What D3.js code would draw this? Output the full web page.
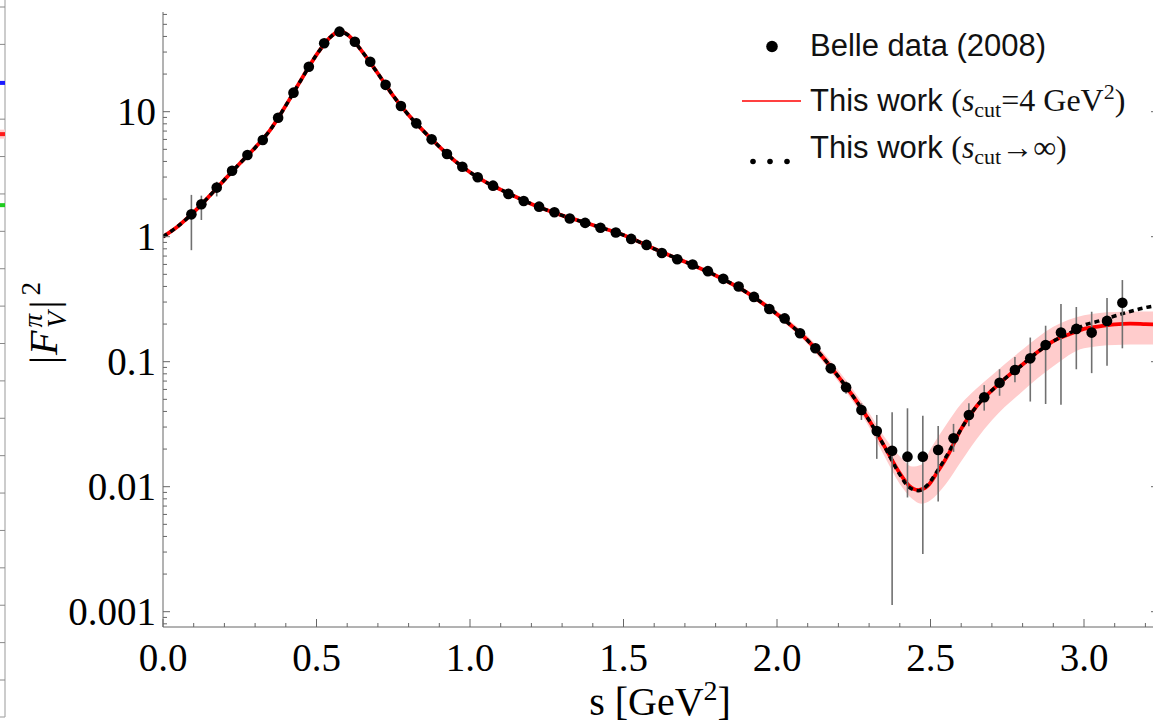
<!DOCTYPE html>
<html>
<head>
<meta charset="utf-8">
<script src="https://cdn.jsdelivr.net/npm/d3@7"></script>
<style>
  body { margin: 0; background: #fff; }
  svg { display: block; }
</style>
</head>
<body>
<div id="chart"></div>
<script>
// 1: DATA
// Belle (2008) points
const belleS = [0.0925, 0.125, 0.175, 0.225, 0.275, 0.325, 0.375, 0.425, 0.475, 0.525,
  0.575, 0.625, 0.675, 0.725, 0.775, 0.825, 0.875, 0.925, 0.975, 1.025,
  1.075, 1.125, 1.175, 1.225, 1.275, 1.325, 1.375, 1.425, 1.475, 1.525,
  1.575, 1.625, 1.675, 1.725, 1.775, 1.825, 1.875, 1.925, 1.975, 2.025,
  2.075, 2.125, 2.175, 2.225, 2.275, 2.325, 2.375, 2.425, 2.475, 2.525,
  2.575, 2.625, 2.675, 2.725, 2.775, 2.825, 2.875, 2.925, 2.975, 3.025,
  3.075, 3.125];
const belleV = [1.51, 1.82, 2.47, 3.37, 4.50, 5.94, 8.95, 14.2, 22.9, 35.3,
  43.7, 36.3, 25.1, 16.4, 11.1, 8.07, 6.01, 4.59, 3.63, 2.99,
  2.56, 2.20, 1.93, 1.74, 1.57, 1.40, 1.29, 1.18, 1.08, 0.96,
  0.86, 0.74, 0.66, 0.60, 0.53, 0.46, 0.40, 0.33, 0.264, 0.222,
  0.169, 0.128, 0.0885, 0.0624, 0.0411, 0.0279, 0.0194, 0.0174, 0.0174, 0.0197,
  0.0244, 0.0375, 0.0519, 0.0679, 0.0859, 0.1064, 0.136, 0.171, 0.183, 0.171,
  0.212, 0.296];
// error bars (null = hidden behind the marker)
const belleLo = [0.78, 1.36, 2.1, null, null, null, null, null, null, null,
  null, null, null, null, null, null, null, null, null, null,
  null, null, null, null, null, null, null, null, null, null,
  null, null, null, null, null, null, null, null, null, null,
  null, null, 0.081, 0.0555, 0.0342, 0.0167, 0.00113, 0.0082, 0.0029, 0.0076,
  0.019, 0.0304, 0.0406, 0.0534, 0.0684, 0.048, 0.0459, 0.0453, 0.087, 0.081,
  0.093, 0.128];
const belleHi = [2.16, 2.13, 2.75, null, null, null, null, null, null, null,
  null, null, null, null, null, null, null, null, null, null,
  null, null, null, null, null, null, null, null, null, null,
  null, null, null, null, null, null, null, null, null, null,
  null, null, 0.097, 0.0694, 0.0464, 0.0375, 0.0394, 0.0424, 0.037, 0.0306,
  0.0318, 0.0466, 0.065, 0.087, 0.109, 0.156, 0.194, 0.29, 0.274, 0.251,
  0.323, 0.45];

// model curves
const curveS = [0, 0.05, 0.1, 0.15, 0.2, 0.25, 0.3, 0.35, 0.4, 0.45,
  0.5, 0.55, 0.575, 0.6, 0.65, 0.7, 0.75, 0.8, 0.85, 0.9,
  0.95, 1.0, 1.05, 1.1, 1.2, 1.3, 1.4, 1.5, 1.6, 1.7,
  1.8, 1.9, 2.0, 2.1, 2.2, 2.25, 2.3, 2.35, 2.4, 2.43,
  2.46, 2.49, 2.52, 2.56, 2.6, 2.65, 2.7, 2.75, 2.8, 2.85,
  2.9, 2.95, 3.0, 3.05, 3.1, 3.15, 3.2, 3.25];
const redV = [1.0, 1.22, 1.57, 2.1, 2.85, 3.85, 5.15, 7.2, 11.2, 18.0,
  28.5, 40.5, 44.0, 41.5, 30.0, 20.2, 13.4, 9.4, 6.95, 5.25,
  4.05, 3.28, 2.75, 2.38, 1.83, 1.48, 1.24, 1.03, 0.80, 0.63,
  0.49, 0.36, 0.24, 0.148, 0.076, 0.052, 0.034, 0.021, 0.0128, 0.0102,
  0.0094, 0.0101, 0.0128, 0.0185, 0.029, 0.044, 0.059, 0.076, 0.095, 0.12,
  0.146, 0.165, 0.183, 0.192, 0.199, 0.202, 0.200, 0.198];
const blackV = [1.0, 1.22, 1.57, 2.1, 2.85, 3.85, 5.15, 7.2, 11.2, 18.0,
  28.5, 40.5, 44.0, 41.5, 30.0, 20.2, 13.4, 9.4, 6.95, 5.25,
  4.05, 3.28, 2.75, 2.38, 1.83, 1.48, 1.24, 1.03, 0.80, 0.63,
  0.49, 0.36, 0.24, 0.148, 0.076, 0.052, 0.034, 0.021, 0.0125, 0.0099,
  0.0093, 0.0103, 0.0131, 0.019, 0.029, 0.044, 0.059, 0.076, 0.095, 0.12,
  0.146, 0.168, 0.196, 0.212, 0.232, 0.252, 0.271, 0.285];

// uncertainty band of the s_cut = 4 GeV^2 curve
const bandS = [1.8, 1.9, 2.0, 2.1, 2.2, 2.3, 2.35, 2.4, 2.44, 2.47,
  2.5, 2.55, 2.6, 2.65, 2.7, 2.8, 2.9, 3.0, 3.1, 3.2, 3.25];
const bandLo = [0.475, 0.345, 0.228, 0.138, 0.069, 0.030, 0.0175, 0.0105, 0.0080, 0.0073,
  0.0078, 0.0105, 0.016, 0.024, 0.034, 0.058, 0.092, 0.128, 0.136, 0.137, 0.137];
const bandHi = [0.505, 0.375, 0.255, 0.160, 0.085, 0.039, 0.025, 0.0175, 0.0145, 0.0150,
  0.020, 0.031, 0.046, 0.061, 0.078, 0.125, 0.19, 0.235, 0.25, 0.252, 0.252];

// tick labels
const xMajor = [0, 0.5, 1.0, 1.5, 2.0, 2.5, 3.0];
const xLabels = ["0.0", "0.5", "1.0", "1.5", "2.0", "2.5", "3.0"];
const yMajor = [0.001, 0.01, 0.1, 1, 10];
const yLabels = ["0.001", "0.01", "0.1", "1", "10"];

// cut-off edge of the neighbouring panel (left border of the picture)
const nbStubValues = [2.03, 3.4, 5.3];
const nbStubColors = ["#1a1aff", "#ff1a1a", "#1fcc1f"];

// 2: LAYOUT
const W = 1153, H = 726;
const plot = { left: 163, right: 1158, top: 12, bottom: 627 };
const serif = "'Liberation Serif', 'Times New Roman', serif";
const sans = "'Liberation Sans', Arial, sans-serif";

const svg = d3.select("#chart").append("svg")
  .attr("width", W)
  .attr("height", H);

// 3: SCALES
const x = d3.scaleLinear().domain([0, 3.2]).range([163, 1145.4]);
const y = d3.scaleLog().domain([0.001, 10]).range([611.7, 111.7]);

svg.append("clipPath").attr("id", "plotClip")
  .append("rect")
  .attr("x", plot.left).attr("y", plot.top)
  .attr("width", plot.right - plot.left).attr("height", plot.bottom - plot.top);

const g = svg.append("g").attr("clip-path", "url(#plotClip)");

// 4: BAND + CURVES
const band = bandS.map((s, i) => ({ s, lo: bandLo[i], hi: bandHi[i] }));
g.append("path")
  .datum(band)
  .attr("fill", "#ffcccc")
  .attr("d", d3.area()
    .x(d => x(d.s)).y0(d => y(d.lo)).y1(d => y(d.hi))
    .curve(d3.curveMonotoneX));

const line = d3.line()
  .x(d => x(d.s)).y(d => y(d.v))
  .curve(d3.curveMonotoneX);

g.append("path")
  .datum(curveS.map((s, i) => ({ s, v: redV[i] })))
  .attr("fill", "none")
  .attr("stroke", "#ff0000")
  .attr("stroke-width", 3.8)
  .attr("d", line);

g.append("path")
  .datum(curveS.map((s, i) => ({ s, v: blackV[i] })))
  .attr("fill", "none")
  .attr("stroke", "#000")
  .attr("stroke-width", 3.5)
  .attr("stroke-dasharray", "5,4")
  .attr("d", line);

// 5: DATA POINTS
const pts = belleS.map((s, i) => ({ s, v: belleV[i], lo: belleLo[i], hi: belleHi[i] }));
g.selectAll(".err")
  .data(pts.filter(d => d.lo !== null))
  .enter().append("line")
  .attr("class", "err")
  .attr("x1", d => x(d.s)).attr("x2", d => x(d.s))
  .attr("y1", d => y(d.lo)).attr("y2", d => y(d.hi))
  .attr("stroke", "#707070")
  .attr("stroke-width", 1.6);

g.selectAll(".pt")
  .data(pts)
  .enter().append("circle")
  .attr("class", "pt")
  .attr("cx", d => x(d.s)).attr("cy", d => y(d.v))
  .attr("r", 5.3)
  .attr("fill", "#000");

// 6: AXES (ticks inside the frame)
const axisColor = "#666";
const xFull = x.copy().domain([0, x.invert(plot.right)]).range([plot.left, plot.right]);
const yFull = y.copy().domain([y.invert(plot.bottom), y.invert(plot.top)]).range([plot.bottom, plot.top]);
const xMinor = xFull.ticks(32).filter(t => !xMajor.some(m => Math.abs(m - t) < 1e-6));
const yMinor = yFull.ticks().filter(t => !yMajor.some(m => Math.abs(m - t) / m < 1e-6));

const ax = svg.append("g");
ax.append("line")
  .attr("x1", plot.left).attr("x2", plot.left)
  .attr("y1", plot.top).attr("y2", plot.bottom)
  .attr("stroke", axisColor);
ax.append("line")
  .attr("x1", plot.left).attr("x2", plot.right)
  .attr("y1", plot.bottom).attr("y2", plot.bottom)
  .attr("stroke", axisColor);
ax.append("line")
  .attr("x1", plot.right).attr("x2", plot.right)
  .attr("y1", plot.top).attr("y2", plot.bottom)
  .attr("stroke", axisColor);

// x ticks
ax.selectAll(".xt")
  .data(xMajor.map(v => ({ v, len: 8 })).concat(xMinor.map(v => ({ v, len: 4 }))))
  .enter().append("line")
  .attr("x1", d => x(d.v)).attr("x2", d => x(d.v))
  .attr("y1", plot.bottom).attr("y2", d => plot.bottom - d.len)
  .attr("stroke", axisColor);

// y ticks, left and right
const yt = yMajor.map(v => ({ v, len: 7 })).concat(yMinor.map(v => ({ v, len: 4 })));
ax.selectAll(".yl")
  .data(yt)
  .enter().append("line")
  .attr("x1", plot.left).attr("x2", d => plot.left + d.len)
  .attr("y1", d => y(d.v)).attr("y2", d => y(d.v))
  .attr("stroke", axisColor);
ax.selectAll(".yr")
  .data(yt)
  .enter().append("line")
  .attr("x1", plot.right).attr("x2", d => plot.right - d.len)
  .attr("y1", d => y(d.v)).attr("y2", d => y(d.v))
  .attr("stroke", axisColor);

// tick labels
ax.selectAll(".xlab")
  .data(xMajor)
  .enter().append("text")
  .attr("x", d => x(d)).attr("y", 671)
  .attr("text-anchor", "middle")
  .style("font-family", serif).style("font-size", "39px")
  .text((d, i) => xLabels[i]);

ax.selectAll(".ylab")
  .data(yMajor)
  .enter().append("text")
  .attr("x", 156).attr("y", d => y(d))
  .attr("dy", "0.34em")
  .attr("text-anchor", "end")
  .style("font-family", serif).style("font-size", "39px")
  .text((d, i) => yLabels[i]);

// 7: AXIS TITLES
const xt = svg.append("text")
  .attr("x", 660).attr("y", 715)
  .attr("text-anchor", "middle")
  .style("font-family", serif).style("font-size", "40px");
xt.append("tspan").text("s [GeV");
xt.append("tspan").attr("dy", -15).style("font-size", "28px").text("2");
xt.append("tspan").attr("dy", 15).text("]");

const ytl = svg.append("text")
  .attr("transform", "translate(57,364) rotate(-90)")
  .style("font-family", serif).style("font-size", "40px");
ytl.append("tspan").text("|");
ytl.append("tspan").style("font-style", "italic").attr("dx", 1).text("F");
ytl.append("tspan").style("font-style", "italic").style("font-size", "27px")
  .attr("dx", 3).attr("dy", -15).text("π");
ytl.append("tspan").style("font-style", "italic").style("font-size", "27px")
  .attr("dx", -14).attr("dy", 24).text("V");
ytl.append("tspan").attr("dx", 3).attr("dy", -9).text("|");
ytl.append("tspan").style("font-size", "27px").attr("dx", 5).attr("dy", -17).text("2");

// 8: LEGEND
const leg = svg.append("g");
leg.append("circle").attr("cx", 772).attr("cy", 46.5).attr("r", 5.8).attr("fill", "#000");
leg.append("text").attr("x", 810).attr("y", 56)
  .style("font-family", sans).style("font-size", "31px").attr("fill", "#111")
  .text("Belle data (2008)");

leg.append("line").attr("x1", 742).attr("x2", 801).attr("y1", 101).attr("y2", 101)
  .attr("stroke", "#ff0000").attr("stroke-width", 1.6);
const t2 = leg.append("text").attr("x", 810).attr("y", 111)
  .style("font-family", sans).style("font-size", "31px").attr("fill", "#111");
t2.append("tspan").text("This work ");
t2.append("tspan").style("font-family", serif).style("font-size", "32px").text("(");
t2.append("tspan").style("font-family", serif).style("font-size", "32px").style("font-style", "italic").text("s");
t2.append("tspan").style("font-family", serif).style("font-size", "22px").attr("dy", 6).text("cut");
t2.append("tspan").style("font-family", serif).style("font-size", "32px").attr("dy", -6).text("=4 GeV");
t2.append("tspan").style("font-family", serif).style("font-size", "22px").attr("dy", -12).text("2");
t2.append("tspan").style("font-family", serif).style("font-size", "32px").attr("dy", 12).text(")");

leg.selectAll(".ld")
  .data([753, 770, 787])
  .enter().append("circle")
  .attr("cx", d => d).attr("cy", 161.5).attr("r", 2.8).attr("fill", "#000");
const t3 = leg.append("text").attr("x", 810).attr("y", 158)
  .style("font-family", sans).style("font-size", "31px").attr("fill", "#111");
t3.append("tspan").text("This work ");
t3.append("tspan").style("font-family", serif).style("font-size", "32px").text("(");
t3.append("tspan").style("font-family", serif).style("font-size", "32px").style("font-style", "italic").text("s");
t3.append("tspan").style("font-family", serif).style("font-size", "22px").attr("dy", 6).text("cut");
t3.append("tspan").style("font-family", serif).style("font-size", "32px").attr("dy", -6).text("→∞)");

// 9: NEIGHBOUR PANEL EDGE (cut off at left border)
const nb = d3.scaleLinear().domain([0, 18]).range([7, 680]);
const nbg = svg.append("g");
nbg.append("line").attr("x1", 5).attr("x2", 5).attr("y1", 0).attr("y2", 717)
  .attr("stroke", "#aaa").attr("stroke-width", 1.2);
nbg.append("line").attr("x1", 0).attr("x2", 5).attr("y1", 717).attr("y2", 717)
  .attr("stroke", "#aaa").attr("stroke-width", 1.2);
nbg.selectAll(".nbt")
  .data(nb.ticks(18))
  .enter().append("line")
  .attr("x1", 0).attr("x2", 5)
  .attr("y1", d => nb(d)).attr("y2", d => nb(d))
  .attr("stroke", "#888");
nbg.append("line").attr("x1", 0).attr("x2", 5)
  .attr("y1", nb(nbStubValues[1])).attr("y2", nb(nbStubValues[1]))
  .attr("stroke", "#ffcccc").attr("stroke-width", 9);
nbg.selectAll(".nbs")
  .data(nbStubValues)
  .enter().append("line")
  .attr("x1", 0).attr("x2", 5)
  .attr("y1", d => nb(d)).attr("y2", d => nb(d))
  .attr("stroke", (d, i) => nbStubColors[i]).attr("stroke-width", 4);
</script>
</body>
</html>
